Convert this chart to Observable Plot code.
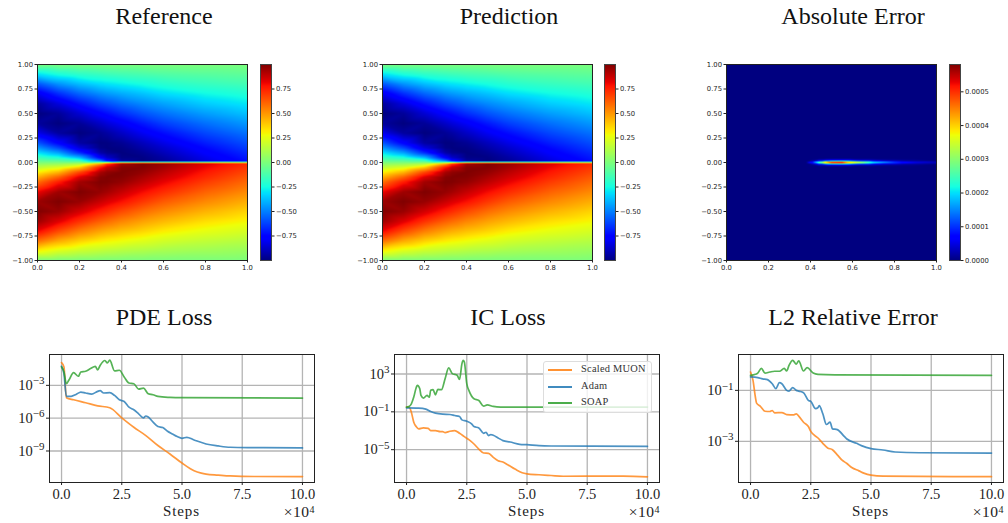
<!DOCTYPE html>
<html><head><meta charset="utf-8">
<script src="https://cdn.jsdelivr.net/npm/d3@7"></script>
<script src="https://cdn.jsdelivr.net/npm/@observablehq/plot@0.6"></script>
<style>
html,body{margin:0;padding:0;background:#fff}
#page{position:relative;width:1008px;height:523px;overflow:hidden;background:#fff}
#page svg{position:absolute;overflow:visible;background:transparent;max-width:none}
.title{position:absolute;transform:translateX(-50%);font:24px "Liberation Serif",serif;color:#111;white-space:nowrap;line-height:28px}
.lab{position:absolute;font:15px "Liberation Serif",serif;color:#222;white-space:nowrap;line-height:16px}
.steps{transform:translateX(-50%);letter-spacing:.9px}
.mult{transform:translateX(-100%);font-size:15.5px;letter-spacing:.5px}
.mult sup{font-size:10px;line-height:0;vertical-align:baseline;position:relative;top:-4px}
#legend{position:absolute;box-sizing:border-box;width:109px;height:52px;background:rgba(255,255,255,.8);border:1px solid #ddd;border-radius:3px;font:10.4px "Liberation Serif",serif;color:#333}
#legend i{position:absolute;left:4px;width:24px;height:1.5px;opacity:.85}
#legend span{position:absolute;left:37px;white-space:nowrap;line-height:12px;letter-spacing:.25px}
</style></head><body><div id="page"></div>
<script>
// ---------- field data (x = horizontal axis, y = vertical axis) ----------
const fieldX = [0, .1, .2, .3, .33, .4, .5, .6, .8, 1];
const fieldY = [1, .9, .8, .7, .6, .5, .4, .3, .2, .15, .1, .05, .02, .012, 0,
  -.012, -.02, -.05, -.1, -.15, -.2, -.3, -.4, -.5, -.6, -.7, -.8, -.9, -1];
const fieldU = [
 [0,0,0,0,0,0,0,0,0,0],
 [-.309,-.236,-.192,-.165,-.155,-.14,-.125,-.105,-.087,-.07],
 [-.588,-.464,-.38,-.32,-.305,-.279,-.245,-.21,-.17,-.141],
 [-.809,-.669,-.557,-.475,-.454,-.415,-.37,-.32,-.26,-.22],
 [-.951,-.838,-.72,-.62,-.596,-.54,-.48,-.43,-.348,-.295],
 [-1,-.956,-.857,-.757,-.729,-.665,-.59,-.53,-.44,-.37],
 [-.951,-1,-.958,-.873,-.844,-.788,-.705,-.63,-.53,-.45],
 [-.809,-.945,-1,-.962,-.94,-.882,-.8,-.73,-.613,-.526],
 [-.588,-.762,-.94,-1,-.996,-.966,-.895,-.82,-.695,-.597],
 [-.454,-.616,-.842,-.986,-.998,-.989,-.93,-.864,-.738,-.632],
 [-.309,-.435,-.672,-.93,-.969,-1,-.966,-.9,-.773,-.67],
 [-.156,-.227,-.394,-.773,-.875,-.985,-.99,-.938,-.81,-.703],
 [-.063,-.091,-.168,-.545,-.736,-.951,-.998,-.955,-.83,-.723],
 [-.038,-.055,-.1,-.4,-.65,-.93,-.99,-.96,-.84,-.73],
 [0,0,0,0,.1,.28,.32,.32,.3,.26],
 [.038,.055,.1,.4,.65,.93,.99,.96,.84,.73],
 [.063,.091,.168,.545,.736,.951,.998,.955,.83,.723],
 [.156,.227,.394,.773,.875,.985,.99,.938,.81,.703],
 [.309,.435,.672,.93,.969,1,.966,.9,.773,.67],
 [.454,.616,.842,.986,.998,.989,.93,.864,.738,.632],
 [.588,.762,.94,1,.996,.966,.895,.82,.695,.597],
 [.809,.945,1,.962,.94,.882,.8,.73,.613,.526],
 [.951,1,.958,.873,.844,.788,.705,.63,.53,.45],
 [1,.956,.857,.757,.729,.665,.59,.53,.44,.37],
 [.951,.838,.72,.62,.596,.54,.48,.43,.348,.295],
 [.809,.669,.557,.475,.454,.415,.37,.32,.26,.22],
 [.588,.464,.38,.32,.305,.279,.245,.21,.17,.141],
 [.309,.236,.192,.165,.155,.14,.125,.105,.087,.07],
 [0,0,0,0,0,0,0,0,0,0]
];
const errX = [0, .38, .41, .44, .47, .5, .55, .6, .65, .7, .8, .9, 1];
const errY = [1, .04, .02, .01, 0, -.01, -.02, -.04, -1];
const errU = [
 [0,0,0,0,0,0,0,0,0,0,0,0,0],
 [0,0,0,0,0,0,0,0,0,0,0,0,0],
 [0,0,.00001,.00005,.00007,.00009,.0001,.00007,.00005,.00004,.00002,.00001,0],
 [0,0,.00005,.00016,.00026,.00034,.00035,.00026,.0002,.00013,.00007,.00003,.00002],
 [0,0,.0001,.0003,.00048,.00062,.00064,.00047,.00036,.00024,.00012,.00006,.00003],
 [0,0,.00005,.00016,.00026,.00034,.00035,.00026,.0002,.00013,.00007,.00003,.00002],
 [0,0,.00001,.00005,.00007,.00009,.0001,.00007,.00005,.00004,.00002,.00001,0],
 [0,0,0,0,0,0,0,0,0,0,0,0,0],
 [0,0,0,0,0,0,0,0,0,0,0,0,0]
];
const fieldDomain = [-1, 1];
const errDomain = [0, .000581];
const fieldBarTicks = [-.75, -.5, -.25, 0, .25, .5, .75];
const errBarTicks = [0, .0001, .0002, .0003, .0004, .0005];
const axisXTicks = [0, .2, .4, .6, .8, 1];
const axisYTicks = [-1, -.75, -.5, -.25, 0, .25, .5, .75, 1];

// ---------- loss curves: steps in units of 1e4, values as log10 ----------
const pdeMuonSteps = [0,.1,.2,.5,1,1.5,2,2.5,3,3.5,4,4.5,5,5.5,5.8,6,6.5,7,8,10];
const pdeMuon = [-.92,-1.32,-4.13,-4.32,-4.59,-4.87,-5.05,-5.97,-6.83,-7.59,-8.5,-9.27,-10.1,-10.8,-11.02,-11.11,-11.2,-11.28,-11.33,-11.34];
const pdeAdamSteps = [0,.1,.2,.4,.6,.8,1,1.25,1.5,1.6,1.75,2,2.2,2.4,2.6,2.8,3,3.2,3.4,3.5,3.6,3.8,4,4.2,4.4,4.6,4.8,5,5.2,5.5,6,6.5,7,8,10];
const pdeAdam = [-1.26,-1.93,-4,-4,-3.83,-3.61,-3.7,-3.8,-3.55,-3.49,-3.7,-3.67,-3.92,-4.32,-4.47,-4.99,-5.23,-5.6,-5.97,-5.8,-5.9,-6.37,-6.76,-6.86,-7.19,-7.44,-7.68,-7.84,-7.75,-7.99,-8.36,-8.54,-8.66,-8.69,-8.72];
const pdeSoapSteps = [0,.1,.2,.3,.5,.7,.8,1,1.2,1.4,1.5,1.6,1.8,1.9,2,2.2,2.4,2.6,2.8,3,3.2,3.4,3.6,3.8,4,4.5,5,10];
const pdeSoap = [-1.32,-1.78,-2.85,-2.54,-1.84,-2.17,-1.78,-1.71,-1.47,-1.26,-1.58,-1.18,-.73,-.95,-.7,-1.68,-1.62,-2.23,-2.79,-2.85,-3.34,-3.25,-3.77,-3.86,-4.01,-4.1,-4.13,-4.16];

const icMuonSteps = [0,.1,.2,.3,.4,.5,.7,.9,1,1.2,1.4,1.5,1.6,1.8,2,2.2,2.4,2.6,2.8,3,3.2,3.4,3.6,3.8,4,4.2,4.5,4.8,5,5.5,6,6.5,7.5,9,10];
const icMuon = [-.5,-.5,-1.04,-2.1,-2.56,-2.8,-2.7,-2.74,-2.98,-2.98,-3.09,-3.09,-3.2,-3.05,-2.98,-3.27,-3.62,-3.97,-4.4,-4.93,-5.35,-5.39,-5.81,-6.17,-6.31,-6.59,-7.05,-7.44,-7.55,-7.65,-7.73,-7.81,-7.8,-7.8,-7.87];
const icAdamSteps = [0,.5,.8,1,1.2,1.5,1.8,2,2.2,2.3,2.5,2.7,2.8,3,3.2,3.3,3.4,3.5,3.6,3.8,4,4.3,4.7,5,5.5,6,10];
const icAdam = [-.58,-.61,-.72,-.96,-1.14,-1.25,-1.28,-1.39,-1.5,-1.85,-1.99,-2.27,-2.56,-2.7,-3.27,-3.16,-3.51,-3.4,-3.48,-3.76,-4.04,-4.19,-4.43,-4.47,-4.58,-4.61,-4.65];
const icSoapSteps = [0,.1,.2,.3,.4,.45,.55,.6,.7,.85,.95,1,1.1,1.2,1.3,1.45,1.6,1.75,1.9,2.1,2.2,2.3,2.35,2.4,2.5,2.6,2.8,3,3.2,3.35,3.6,3.9,5,10];
const icSoap = [-.5,-.43,-.15,.56,1.55,1.8,1.44,.73,.45,.73,.55,1.27,1.34,.8,1.37,1.34,2.5,3.64,3.04,2.86,2.43,4.1,4.45,4.27,1.97,1.19,.38,.2,-.4,-.26,-.43,-.5,-.5,-.5];

const l2MuonSteps = [0,.1,.2,.25,.4,.6,.8,.9,1,1.3,1.5,1.8,1.9,2,2.2,2.4,2.5,2.8,3,3.2,3.4,3.6,3.8,4,4.2,4.5,4.7,5,5.5,10];
const l2Muon = [-.28,-.6,-1.26,-1.5,-1.62,-1.82,-1.83,-1.79,-1.88,-1.87,-1.95,-1.96,-1.92,-2.01,-2.25,-2.42,-2.61,-2.87,-3.08,-3.26,-3.33,-3.53,-3.74,-3.87,-4.03,-4.16,-4.25,-4.33,-4.37,-4.39];
const l2AdamSteps = [0,.3,.5,.7,.9,1.05,1.2,1.3,1.5,1.6,1.75,1.9,2,2.2,2.4,2.5,2.7,2.8,2.85,3,3.15,3.3,3.4,3.6,3.9,4,4.4,4.6,5,5.5,6,7,10];
const l2Adam = [-.47,-.5,-.55,-.58,-.74,-.93,-.7,-.74,-1,-1.03,-.89,-1,-1.03,-1.09,-1.39,-1.43,-1.72,-1.68,-1.6,-1.92,-2.34,-2.25,-2.51,-2.54,-2.82,-2.91,-3.08,-3.17,-3.29,-3.34,-3.42,-3.45,-3.46];
const l2SoapSteps = [0,.2,.3,.45,.6,.8,1,1.2,1.4,1.5,1.6,1.75,1.9,2,2.2,2.35,2.6,2.8,3.5,10];
const l2Soap = [-.41,-.37,-.32,-.14,-.32,-.28,-.25,-.25,-.14,-.24,-.01,.18,.03,.16,-.24,-.11,-.32,-.37,-.39,-.41];

const seriesColors = {muon:"#ff7f0e", adam:"#1f77b4", soap:"#2ca02c"};
const stepTicks = [0, 2.5, 5, 7.5, 10];

// ---------- jet ----------
const jr = d3.scaleLinear([0,.35,.66,.89,1],[0,0,1,1,.5]).clamp(true);
const jg = d3.scaleLinear([0,.125,.375,.64,.91,1],[0,0,1,1,0,0]).clamp(true);
const jb = d3.scaleLinear([0,.11,.34,.65,1],[.5,1,1,0,0]).clamp(true);
const jet = t => `rgb(${Math.round(jr(t)*255)},${Math.round(jg(t)*255)},${Math.round(jb(t)*255)})`;

const page = document.getElementById("page");
function place(el, left, top){ el.style.left = left+"px"; el.style.top = top+"px"; page.appendChild(el); }
function addDiv(cls, html, left, top){ const d=document.createElement("div"); d.className=cls; d.innerHTML=html; place(d,left,top); return d; }

const smallStyle = {fontSize:"6.8px", fontFamily:"'DejaVu Sans',sans-serif", color:"#222", background:"transparent"};
const spine = "#222";

function heat(axLeft, xs, ys, zs, domain){
  const pts = [];
  ys.forEach((y,i)=>xs.forEach((x,j)=>pts.push({x,y,u:zs[i][j]})));
  const p = Plot.plot({
    width:37+210+8, height:24+196+20, marginLeft:37, marginRight:8, marginTop:24, marginBottom:20,
    style:smallStyle,
    x:{domain:[0,1], axis:null}, y:{domain:[-1,1], axis:null},
    color:{type:"linear", domain, interpolate:jet},
    marks:[
      Plot.raster(pts,{x:"x",y:"y",fill:"u",interpolate:"barycentric",pixelSize:1}),
      Plot.axisX(axisXTicks,{anchor:"bottom",tickSize:2.5,tickPadding:2,tickFormat:d3.format(".1f"),label:null}),
      Plot.axisY(axisYTicks,{anchor:"left",tickSize:2.5,tickPadding:2,tickFormat:d3.format(".2f"),label:null}),
      Plot.frame({stroke:spine,strokeWidth:1})
    ]
  });
  place(p, axLeft-37, 40);
}
function bar(axLeft, domain, ticks, fmt){
  const p = Plot.plot({
    width:11+40, height:24+196+20, marginLeft:0, marginRight:40, marginTop:24, marginBottom:20,
    style:smallStyle,
    x:{domain:[0,1], axis:null}, y:{domain, axis:null},
    color:{type:"linear", domain, interpolate:jet},
    marks:[
      Plot.raster({x1:0,x2:1,y1:domain[0],y2:domain[1],fill:(x,y)=>y,pixelSize:1}),
      Plot.axisY(ticks,{anchor:"right",tickSize:2.5,tickPadding:2,tickFormat:fmt,label:null}),
      Plot.frame({stroke:"#444",strokeWidth:1})
    ]
  });
  place(p, axLeft, 40);
}
function loss(axLeft, expDomain, ticks, curves){
  const domain = expDomain.map(e=>10**e);
  const rows = curves.map(([s,v,c])=>({c, d:s.map((x,i)=>({x, y:10**v[i]}))}));
  const p = Plot.plot({
    width:49+265+12, height:14+128+42, marginLeft:49, marginRight:12, marginTop:14, marginBottom:42,
    style:{fontSize:"14.5px", fontFamily:"'Liberation Serif',serif", color:"#222", background:"transparent"},
    x:{domain:[-.5,10.5], axis:null}, y:{type:"log", domain, axis:null},
    marks:[
      Plot.gridX(stepTicks,{stroke:"#b4b4b4",strokeOpacity:1,strokeWidth:1.3}),
      Plot.gridY(ticks,{stroke:"#b4b4b4",strokeOpacity:1,strokeWidth:1.3}),
      ...rows.map(r=>Plot.lineY(r.d,{x:"x",y:"y",stroke:r.c,strokeWidth:1.7,strokeOpacity:.8,curve:"monotone-x"})),
      Plot.axisX(stepTicks,{anchor:"bottom",tickSize:3,tickPadding:3,tickFormat:d3.format(".1f"),label:null}),
      Plot.axisY(ticks,{anchor:"left",tickSize:3,tickPadding:2,tickFormat:d=>"10^"+Math.round(Math.log10(d)),label:null}),
      Plot.frame({stroke:spine,strokeWidth:1})
    ]
  });
  p.querySelectorAll("text").forEach(t=>{
    if(t.textContent.startsWith("10^")){
      const e=t.textContent.slice(3).replace("-","\u2212");
      t.textContent="10";
      const s=document.createElementNS("http://www.w3.org/2000/svg","tspan");
      s.setAttribute("dy","-5.5"); s.setAttribute("font-size","11"); s.textContent=e;
      t.appendChild(s);
    }
  });
  place(p, axLeft-49, 340);
  addDiv("lab steps","Steps",axLeft+132.5,503);
  addDiv("lab mult","\u00d710<sup>4</sup>",axLeft+266,504);
}

// titles
[["Reference",164,2],["Prediction",509,2],["Absolute Error",853,2],
 ["PDE Loss",164,303],["IC Loss",508,303],["L2 Relative Error",853,303]]
 .forEach(([t,x,y])=>addDiv("title",t,x,y));

heat(37,fieldX,fieldY,fieldU,fieldDomain);
bar(260,fieldDomain,fieldBarTicks,d3.format(".2f"));
heat(382,fieldX,fieldY,fieldU,fieldDomain);
bar(604,fieldDomain,fieldBarTicks,d3.format(".2f"));
heat(726,errX,errY,errU,errDomain);
bar(949,errDomain,errBarTicks,d3.format(".4f"));

loss(49,[-11.88,-.18],[1e-3,1e-6,1e-9],[
 [pdeMuonSteps,pdeMuon,seriesColors.muon],[pdeAdamSteps,pdeAdam,seriesColors.adam],[pdeSoapSteps,pdeSoap,seriesColors.soap]]);
loss(394,[-8.47,5.06],[1e3,1e-1,1e-5],[
 [icMuonSteps,icMuon,seriesColors.muon],[icAdamSteps,icAdam,seriesColors.adam],[icSoapSteps,icSoap,seriesColors.soap]]);
loss(738,[-4.617,.408],[1e-1,1e-3],[
 [l2MuonSteps,l2Muon,seriesColors.muon],[l2AdamSteps,l2Adam,seriesColors.adam],[l2SoapSteps,l2Soap,seriesColors.soap]]);

// legend
const lg = addDiv("", "", 543, 361); lg.id="legend";
[["Scaled MUON",seriesColors.muon,8],["Adam",seriesColors.adam,25],["SOAP",seriesColors.soap,41]].forEach(([t,c,y])=>{
  lg.innerHTML += `<i style="top:${y-1}px;background:${c}"></i><span style="top:${y-7}px">${t}</span>`;
});
</script></body></html>
